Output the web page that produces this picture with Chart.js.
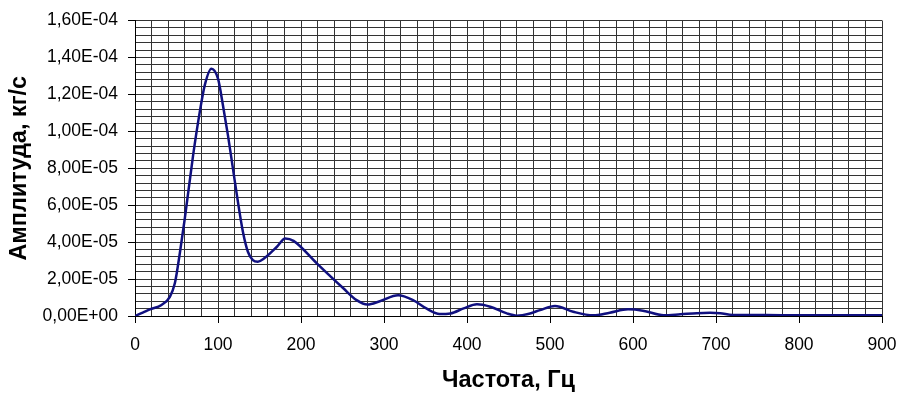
<!DOCTYPE html>
<html>
<head>
<meta charset="utf-8">
<script src="https://cdn.jsdelivr.net/npm/chart.js@4"></script>
<style>
    html, body { margin: 0; padding: 0; background: #fff; }
    #wrap { width: 897px; height: 396px; }
</style>
</head>
<body>
<div id="wrap"><canvas id="spectrum"></canvas></div>
<script>
// Frequency points, Hz
const freqHz = [0, 10, 18, 32, 42, 48, 54, 60, 70, 78, 84, 92, 100, 106, 112, 118, 124, 130, 136, 142,
    148, 155, 171, 181, 191, 219, 251, 267, 280, 295, 317, 335, 351, 367, 380, 396, 412, 428, 448, 460,
    476, 488, 506, 528, 552, 572, 594, 612, 637, 657, 677, 693, 705, 720, 760, 800, 850, 900];

// Amplitude in units of 1E-05 kg/s
const amplitudeE5 = [0, 0.2, 0.36, 0.6, 1.04, 1.77, 3.4, 5.28, 8.7, 11.04, 12.49, 13.39, 12.85, 11.4, 9.78, 7.98, 6.18, 4.56, 3.48, 3.03,
    2.94, 3.1, 3.75, 4.2, 4.07, 2.85, 1.5, 0.86, 0.62, 0.8, 1.12, 0.86, 0.41, 0.11, 0.14, 0.41, 0.63, 0.5, 0.14, 0.02,
    0.14, 0.32, 0.54, 0.23, 0.04, 0.18, 0.36, 0.29, 0.04, 0.09, 0.15, 0.17, 0.15, 0.06, 0.05, 0.04, 0.04, 0.04];

// Axis settings
const xMax = 900, xMinorStep = 20, xMajorStep = 100;
const yMax = 1.6e-4, yMinorStep = 4e-6, yMajorEvery = 5;

const xTitle = "Частота, Гц";
const yTitle = "Амплитуда, кг/с";

// Excel-like scientific label: 1,60E-04
function formatSci(v) {
    if (v === 0) return "0,00E+00";
    const parts = v.toExponential(2).split("e");
    const exp = parseInt(parts[1], 10);
    const sign = exp < 0 ? "-" : "+";
    return parts[0].replace(".", ",") + "E" + sign + String(Math.abs(exp)).padStart(2, "0");
}

function isMajorY(value) {
    return Math.round(value / yMinorStep) % yMajorEvery === 0;
}
function isMajorX(value) {
    return Math.round(value) % xMajorStep === 0;
}

const points = freqHz.map((f, i) => ({ x: f, y: amplitudeE5[i] * 1e-5 }));

const font = 'Arial, "Liberation Sans", sans-serif';
const gridColor = "#333";

new Chart(document.getElementById("spectrum"), {
    type: "line",
    data: {
        datasets: [{
            data: points,
            borderColor: "#10107f",
            borderWidth: 2.5,
            pointRadius: 0,
            fill: false,
            cubicInterpolationMode: "monotone"
        }]
    },
    options: {
        responsive: true,
        maintainAspectRatio: false,
        animation: false,
        layout: { padding: { top: 20, right: 15, left: 0, bottom: 0 } },
        plugins: {
            legend: { display: false },
            tooltip: { enabled: false }
        },
        scales: {
            x: {
                type: "linear",
                min: 0,
                max: xMax,
                afterFit: scale => {
                    scale.height = 80;
                    scale.paddingLeft = 0;
                    scale.paddingRight = 0; // let "900" hang into the right margin
                },
                border: { color: "#000", width: 1 },
                grid: {
                    color: gridColor,
                    lineWidth: 1,
                    drawTicks: true,
                    tickLength: 7,
                    tickColor: ctx => (ctx.tick && isMajorX(ctx.tick.value)) ? "#000" : "rgba(0,0,0,0)"
                },
                ticks: {
                    stepSize: xMinorStep,
                    autoSkip: false,
                    maxRotation: 0,
                    padding: 12,
                    color: "#000",
                    font: { family: font, size: 17.5 },
                    callback: v => isMajorX(v) ? String(Math.round(v)) : ""
                },
                title: {
                    display: true,
                    text: xTitle,
                    color: "#000",
                    font: { family: font, size: 23.5, weight: "bold" },
                    padding: { top: 0, bottom: 1 }
                }
            },
            y: {
                min: 0,
                max: yMax,
                afterFit: scale => { scale.width = 135; },
                border: { color: "#000", width: 1 },
                grid: {
                    color: gridColor,
                    lineWidth: 1,
                    drawTicks: true,
                    tickLength: 7,
                    tickColor: ctx => (ctx.tick && isMajorY(ctx.tick.value)) ? "#000" : "rgba(0,0,0,0)"
                },
                ticks: {
                    stepSize: yMinorStep,
                    autoSkip: false,
                    padding: 10,
                    color: "#000",
                    font: { family: font, size: 17.5 },
                    callback: v => isMajorY(v) ? formatSci(Math.round(v / yMinorStep) * yMinorStep) : ""
                },
                title: {
                    display: true,
                    text: yTitle,
                    color: "#000",
                    font: { family: font, size: 23.5, weight: "bold" },
                    padding: { top: 5, bottom: 0 }
                }
            }
        }
    }
});
</script>
</body>
</html>
